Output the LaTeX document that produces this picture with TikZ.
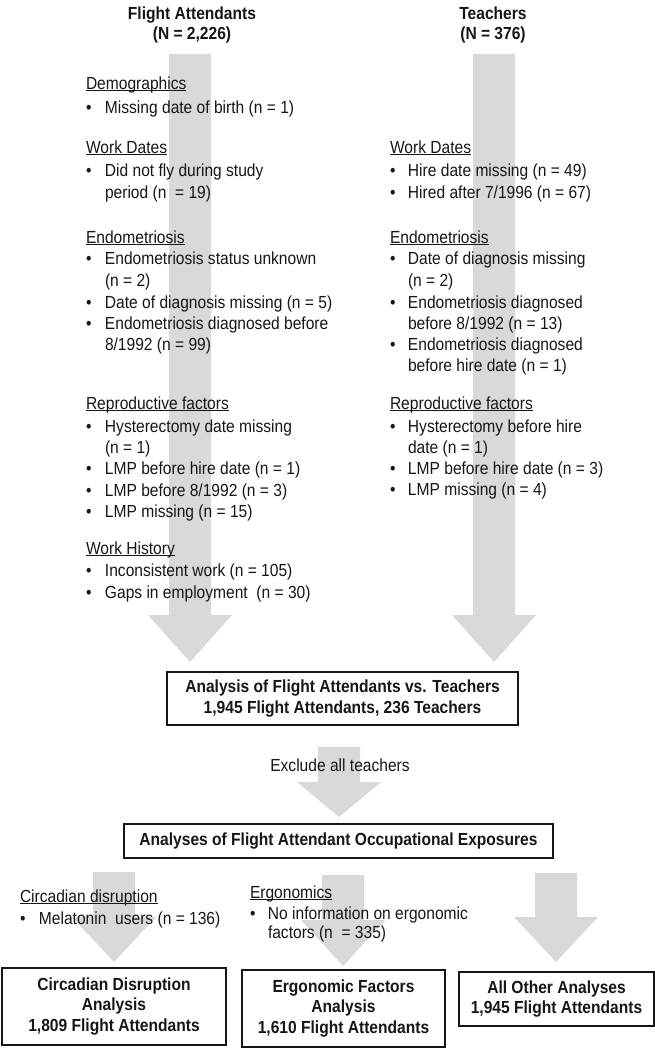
\documentclass[tikz,border=0pt]{standalone}
\usepackage{fontspec}
\usetikzlibrary{calc}
\newfontfamily\arialx{Liberation Sans}[FakeStretch=0.89]
\definecolor{arrowgray}{RGB}{217,217,217}
\definecolor{ink}{RGB}{22,22,22}
\newsavebox\hdbox
\newcommand\hdg[1]{\sbox\hdbox{#1}\rlap{\rule[-2.2pt]{\wd\hdbox}{0.9pt}}\usebox\hdbox}
\newcommand\bl[1]{\makebox[19pt][l]{•}#1}
\newcommand\blr[1]{\makebox[18pt][l]{•}#1}
\newcommand\blockarrow[3]{%
  \fill[arrowgray] ($(#1)+(-21,0)$) -- ($(#2)+(-21,-#3)$) -- ($(#2)+(-42,-#3)$) -- (#2)
    -- ($(#2)+(42,-#3)$) -- ($(#2)+(21,-#3)$) -- ($(#1)+(21,0)$) -- cycle;}
\begin{document}
\begin{tikzpicture}[x=1pt,y=-1pt,
  every node/.style={font=\arialx\fontsize{17.5}{21}\selectfont, text=ink, inner sep=0pt, outer sep=0pt},
  tx/.style={anchor=base west},
  hd/.style={anchor=base, font=\arialx\bfseries\fontsize{17.5}{21}\selectfont},
  boxnode/.style={draw=ink, line width=1.5pt, align=center,
    font=\arialx\bfseries\fontsize{17.5}{20.5}\selectfont}]
\useasboundingbox (0,0) rectangle (655,1050);

% coordinates for block arrows
\coordinate (fas) at (190,54);  \coordinate (fat) at (190,662);
\coordinate (tes) at (494,54);  \coordinate (tet) at (494,662);
\coordinate (exs) at (339,747); \coordinate (ext) at (339,817);
\coordinate (cis) at (114,872); \coordinate (cit) at (114,962);
\coordinate (ers) at (343,875); \coordinate (ert) at (343,966);
\coordinate (ots) at (556,873); \coordinate (ott) at (556,962);

\blockarrow{fas}{fat}{47}
\blockarrow{tes}{tet}{47}
\blockarrow{exs}{ext}{35}
\blockarrow{cis}{cit}{45}
\blockarrow{ers}{ert}{46}
\blockarrow{ots}{ott}{45}

% headers
\node[hd] (fa1) at (192,19) {Flight Attendants};
\node[hd] (fa2) at (192,39) {(N = 2,226)};
\node[hd] (te1) at (493,19) {Teachers};
\node[hd] (te2) at (493,39) {(N = 376)};

% left column
\node[tx] (l1) at (86,89) {\hdg{Demographics}};
\node[tx] (l2) at (86,113) {\bl{Missing date of birth (n = 1)}};
\node[tx] (l3) at (86,153) {\hdg{Work Dates}};
\node[tx] (l4) at (86,176) {\bl{Did not fly during study}};
\node[tx] (l5) at (105,198) {period (n~ = 19)};
\node[tx] (l6) at (86,243) {\hdg{Endometriosis}};
\node[tx] (l7) at (86,264) {\bl{Endometriosis status unknown}};
\node[tx] (l8) at (105,286) {(n = 2)};
\node[tx] (l9) at (86,308) {\bl{Date of diagnosis missing (n = 5)}};
\node[tx] (l10) at (86,329) {\bl{Endometriosis diagnosed before}};
\node[tx] (l11) at (105,350) {8/1992 (n = 99)};
\node[tx] (l12) at (86,409) {\hdg{Reproductive factors}};
\node[tx] (l13) at (86,432) {\bl{Hysterectomy date missing}};
\node[tx] (l14) at (105,453) {(n = 1)};
\node[tx] (l15) at (86,474) {\bl{LMP before hire date (n = 1)}};
\node[tx] (l16) at (86,496) {\bl{LMP before 8/1992 (n = 3)}};
\node[tx] (l17) at (86,517) {\bl{LMP missing (n = 15)}};
\node[tx] (l18) at (86,554) {\hdg{Work History}};
\node[tx] (l19) at (86,576) {\bl{Inconsistent work (n = 105)}};
\node[tx] (l20) at (86,598) {\bl{Gaps in employment~ (n = 30)}};

% right column
\node[tx] (r1) at (390,153) {\hdg{Work Dates}};
\node[tx] (r2) at (390,176) {\blr{Hire date missing (n = 49)}};
\node[tx] (r3) at (390,198) {\blr{Hired after 7/1996 (n = 67)}};
\node[tx] (r4) at (390,243) {\hdg{Endometriosis}};
\node[tx] (r5) at (390,264) {\blr{Date of diagnosis missing}};
\node[tx] (r6) at (408,286) {(n = 2)};
\node[tx] (r7) at (390,308) {\blr{Endometriosis diagnosed}};
\node[tx] (r8) at (408,329) {before 8/1992 (n = 13)};
\node[tx] (r9) at (390,350) {\blr{Endometriosis diagnosed}};
\node[tx] (r10) at (408,371) {before hire date (n = 1)};
\node[tx] (r11) at (390,409) {\hdg{Reproductive factors}};
\node[tx] (r12) at (390,432) {\blr{Hysterectomy before hire}};
\node[tx] (r13) at (408,453) {date (n = 1)};
\node[tx] (r14) at (390,474) {\blr{LMP before hire date (n = 3)}};
\node[tx] (r15) at (390,495) {\blr{LMP missing (n = 4)}};

% analysis box
\node[boxnode, minimum width=351pt, minimum height=53pt] (box1) at (342.5,698.5)
  {Analysis of Flight Attendants vs. Teachers\\1,945 Flight Attendants, 236 Teachers};

\node[anchor=base] (excl) at (340,771) {Exclude all teachers};

\node[boxnode, minimum width=429pt, minimum height=34pt] (box2) at (338.5,841)
  {Analyses of Flight Attendant Occupational Exposures};

% lower exclusions
\node[tx] (c1) at (20,902) {\hdg{Circadian disruption}};
\node[tx] (c2) at (20,924) {\bl{Melatonin~ users (n = 136)}};
\node[tx] (e1) at (250,898) {\hdg{Ergonomics}};
\node[tx] (e2) at (250,919) {\blr{No information on ergonomic}};
\node[tx] (e3) at (268,938) {factors (n~ = 335)};

% final boxes
\node[boxnode, minimum width=224pt, minimum height=77pt] (box3) at (114,1006.5)
  {Circadian Disruption\\Analysis\\1,809 Flight Attendants};
\node[boxnode, minimum width=203pt, minimum height=77pt] (box4) at (343.5,1008.5)
  {Ergonomic Factors\\Analysis\\1,610 Flight Attendants};
\node[boxnode, minimum width=195pt, minimum height=54pt] (box5) at (556.5,999)
  {All Other Analyses\\1,945 Flight Attendants};
\end{tikzpicture}
\end{document}
